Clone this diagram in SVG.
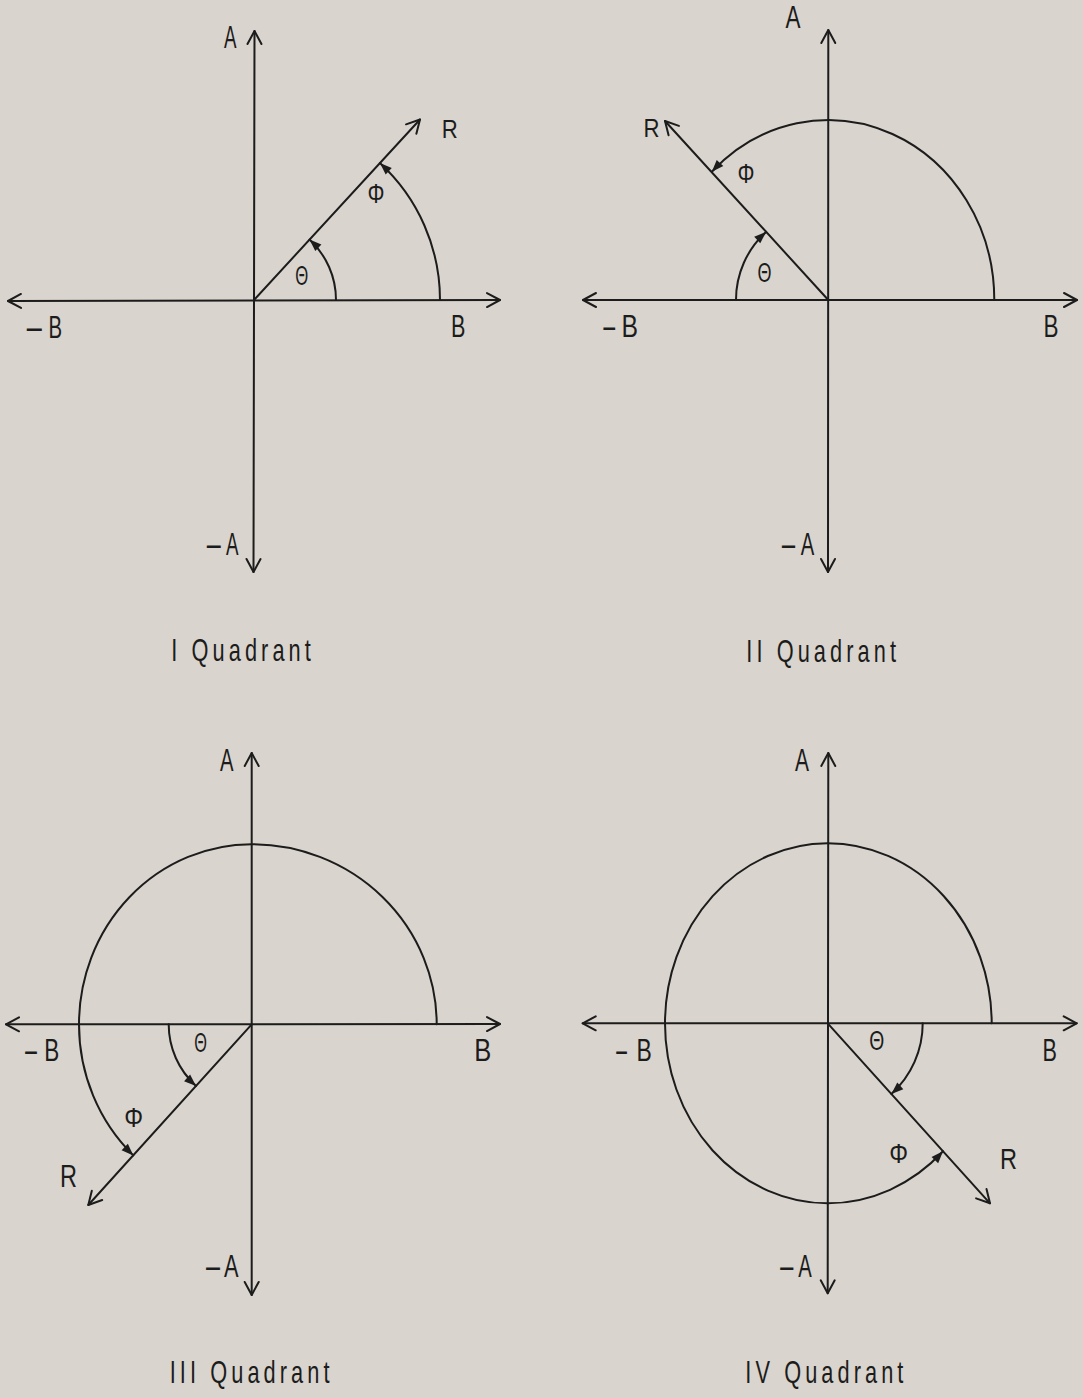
<svg xmlns="http://www.w3.org/2000/svg" width="1083" height="1398" viewBox="0 0 1083 1398">
<defs>
<style>
.ln{fill:none;stroke:#1c1c1c;stroke-width:2;stroke-linecap:round}
.ax{marker-start:url(#open);marker-end:url(#open)}
.ray{marker-end:url(#open)}
.arc{marker-end:url(#fill)}
text{font-family:"Liberation Sans","DejaVu Sans",sans-serif;fill:#1c1c1c}
.lb{font-size:32px}
.gr{font-size:27px}
.tt{font-size:32px;letter-spacing:6px}
</style>
<marker id="open" viewBox="-15 -9 17 18" refX="0" refY="0" markerWidth="17" markerHeight="18" orient="auto-start-reverse" markerUnits="userSpaceOnUse">
<path d="M-13,-7 L0,0 L-13,7" fill="none" stroke="#1c1c1c" stroke-width="2" stroke-linecap="round" stroke-linejoin="round"/>
</marker>
<marker id="fill" viewBox="-14 -6 15 12" refX="0" refY="0" markerWidth="15" markerHeight="12" orient="auto" markerUnits="userSpaceOnUse">
<path d="M-12,-4.5 L0,0 L-12,4.5 z" fill="#1c1c1c"/>
</marker>
</defs>
<rect width="1083" height="1398" fill="#d9d4cd"/>

<g id="quadrant-1">
<path class="ln ax" d="M253.5,572 L254.5,31"/>
<path class="ln ax" d="M8,301 L500,300"/>
<path class="ln ray" d="M254,300 L420,119.5"/>
<path class="ln arc" d="M336,300 A82,82 0 0,0 309.5,239.6"/>
<path class="ln arc" d="M440,300 A186,186 0 0,0 379.9,163.1"/>
<text class="lb" x="224" y="48" textLength="12.5" lengthAdjust="spacingAndGlyphs">A</text>
<text class="lb" x="451" y="337" textLength="14.4" lengthAdjust="spacingAndGlyphs">B</text>
<text class="lb" y="338"><tspan x="24" textLength="20.5" lengthAdjust="spacingAndGlyphs">-</tspan><tspan x="48.5" textLength="13.6" lengthAdjust="spacingAndGlyphs">B</tspan></text>
<text class="lb" y="555"><tspan x="204.2" textLength="19" lengthAdjust="spacingAndGlyphs">-</tspan><tspan x="226" textLength="12.5" lengthAdjust="spacingAndGlyphs">A</tspan></text>
<text style="font-size:26px" x="441.8" y="138" textLength="16" lengthAdjust="spacingAndGlyphs">R</text>
<text class="gr" x="295.2" y="285" textLength="13" lengthAdjust="spacingAndGlyphs">Θ</text>
<text class="gr" x="367.5" y="203" textLength="17" lengthAdjust="spacingAndGlyphs">Φ</text>
<text class="tt" transform="translate(171.3,661) scale(0.68,1)">I Quadrant</text>
</g>

<g id="quadrant-2">
<path class="ln ax" d="M828,572 L828.3,30"/>
<path class="ln ax" d="M583,300 L1077,300"/>
<path class="ln ray" d="M828.3,300 L665,121"/>
<path class="ln arc" d="M736,300 A92,92 0 0,1 766.1,231.9"/>
<path class="ln arc" d="M994.3,300 A166,180 0 0,0 711.8,171.8"/>
<text class="lb" x="785.5" y="28.3" textLength="15" lengthAdjust="spacingAndGlyphs">A</text>
<text class="lb" x="1043.6" y="337" textLength="15" lengthAdjust="spacingAndGlyphs">B</text>
<text class="lb" y="337"><tspan x="601.3" textLength="16" lengthAdjust="spacingAndGlyphs">-</tspan><tspan x="621.5" textLength="16.5" lengthAdjust="spacingAndGlyphs">B</tspan></text>
<text class="lb" y="555"><tspan x="779.5" textLength="18" lengthAdjust="spacingAndGlyphs">-</tspan><tspan x="800.7" textLength="13.5" lengthAdjust="spacingAndGlyphs">A</tspan></text>
<text style="font-size:26px" x="643.5" y="137.3" textLength="16" lengthAdjust="spacingAndGlyphs">R</text>
<text class="gr" x="737.5" y="183" textLength="17" lengthAdjust="spacingAndGlyphs">Φ</text>
<text class="gr" x="757.5" y="281.7" textLength="14" lengthAdjust="spacingAndGlyphs">Θ</text>
<text class="tt" transform="translate(746.3,662) scale(0.68,1)">II Quadrant</text>
</g>

<g id="quadrant-3">
<path class="ln ax" d="M251.7,753 L251.7,1295"/>
<path class="ln ax" d="M6,1024.3 L500,1024"/>
<path class="ln ray" d="M251.7,1024.3 L88.3,1205"/>
<path class="ln" d="M79,1024.3 A172.7,180 0 0,1 251.7,844.3 A185,180 0 0,1 436.7,1024.3"/>
<path class="ln arc" d="M79,1024.3 A172.7,180 0 0,0 133.3,1155.4"/>
<path class="ln arc" d="M168.7,1024.3 A83,83 0 0,0 196,1085.9"/>
<text class="lb" x="220" y="771" textLength="13.5" lengthAdjust="spacingAndGlyphs">A</text>
<text class="lb" x="474.3" y="1061" textLength="17" lengthAdjust="spacingAndGlyphs">B</text>
<text class="lb" y="1061"><tspan x="23" textLength="16" lengthAdjust="spacingAndGlyphs">-</tspan><tspan x="44.3" textLength="15" lengthAdjust="spacingAndGlyphs">B</tspan></text>
<text class="lb" y="1277"><tspan x="203.5" textLength="19" lengthAdjust="spacingAndGlyphs">-</tspan><tspan x="224" textLength="14.5" lengthAdjust="spacingAndGlyphs">A</tspan></text>
<text style="font-size:31px" x="60" y="1187.3" textLength="17" lengthAdjust="spacingAndGlyphs">R</text>
<text class="gr" x="194.2" y="1051.7" textLength="12.7" lengthAdjust="spacingAndGlyphs">Θ</text>
<text class="gr" x="124.2" y="1126.7" textLength="18.8" lengthAdjust="spacingAndGlyphs">Φ</text>
<text class="tt" transform="translate(169.7,1383) scale(0.68,1)">III Quadrant</text>
</g>

<g id="quadrant-4">
<path class="ln ax" d="M828.3,753 L827.7,1293.3"/>
<path class="ln ax" d="M582.7,1023.3 L1076.7,1023.3"/>
<path class="ln ray" d="M827.7,1023.3 L990,1203.3"/>
<path class="ln" d="M665,1023.3 A163,180 0 0,1 827.7,843.3 A164,180 0 0,1 991.7,1023.3"/>
<path class="ln arc" d="M665,1023.3 A163,180 0 0,0 827.7,1203.3 A164,180 0 0,0 943,1151.3"/>
<path class="ln arc" d="M922.7,1023.3 A95,95 0 0,1 891.4,1093.9"/>
<text class="lb" x="795" y="770.7" textLength="14" lengthAdjust="spacingAndGlyphs">A</text>
<text class="lb" x="1042.6" y="1061" textLength="14.4" lengthAdjust="spacingAndGlyphs">B</text>
<text class="lb" y="1061"><tspan x="614.3" textLength="14.6" lengthAdjust="spacingAndGlyphs">-</tspan><tspan x="636.5" textLength="15.3" lengthAdjust="spacingAndGlyphs">B</tspan></text>
<text class="lb" y="1277"><tspan x="777.8" textLength="18" lengthAdjust="spacingAndGlyphs">-</tspan><tspan x="798.3" textLength="13.5" lengthAdjust="spacingAndGlyphs">A</tspan></text>
<text style="font-size:29px" x="1000" y="1169" textLength="17" lengthAdjust="spacingAndGlyphs">R</text>
<text class="gr" x="869.2" y="1050" textLength="15" lengthAdjust="spacingAndGlyphs">Θ</text>
<text class="gr" x="889.2" y="1163.3" textLength="18.8" lengthAdjust="spacingAndGlyphs">Φ</text>
<text class="tt" transform="translate(745.3,1383) scale(0.68,1)">IV Quadrant</text>
</g>
</svg>
